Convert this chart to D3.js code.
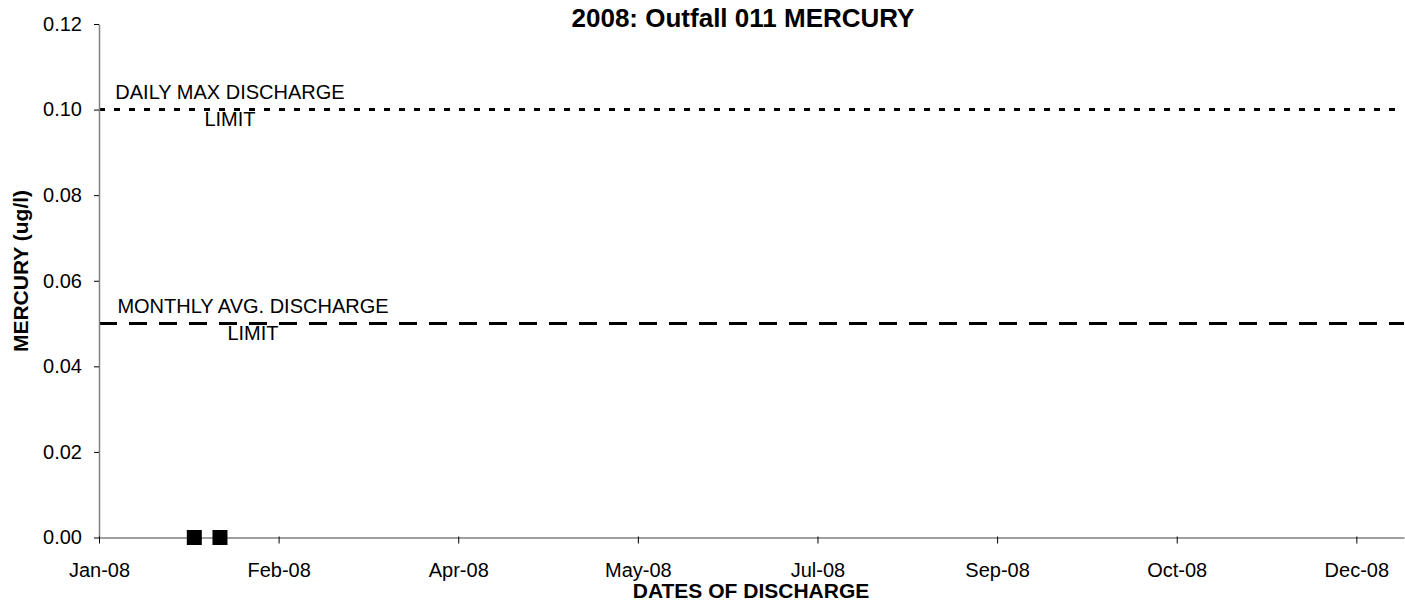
<!DOCTYPE html>
<html>
<head>
<meta charset="utf-8">
<script src="https://cdn.jsdelivr.net/npm/d3@7"></script>
<style>
  body { margin: 0; background: #fff; }
  text { font-family: "Liberation Sans", Arial, sans-serif; }
</style>
</head>
<body>
<script>
const svgWidth = 1405
const svgHeight = 604

const margin = { top: 24, right: 1, bottom: 66.5, left: 99 }

// sample dates and mercury results
const sampleDates = ["2008-01-27", "2008-02-03"]
const mercury = [0, 0]

// permit limits
const limitNames = ["DAILY MAX DISCHARGE", "MONTHLY AVG. DISCHARGE"]
const limitValues = [0.10, 0.05]
const limitDash = ["6,9", "18,12"]

// axis ticks (Excel date axis, 49 day step)
const xTickDates = ["2008-01-01", "2008-02-19", "2008-04-08", "2008-05-27", "2008-07-15", "2008-09-02", "2008-10-21", "2008-12-09"]
const xDomain = ["2008-01-01", "2008-12-22"]
const yTicks = [0, 0.02, 0.04, 0.06, 0.08, 0.10, 0.12]

const parseDate = d3.timeParse("%Y-%m-%d")

const chartWidth = svgWidth - margin.left - margin.right
const chartHeight = svgHeight - margin.top - margin.bottom

const svg = d3.select("body").append("svg")
    .attr("width", svgWidth)
    .attr("height", svgHeight)

const chartG = svg.append("g")
    .attr("transform", `translate(${margin.left}, ${margin.top})`)

const x = d3.scaleTime()
    .domain(xDomain.map(parseDate))
    .range([0, chartWidth])

const y = d3.scaleLinear()
    .domain([0, 0.12])
    .range([chartHeight, 0])

// limit lines
limitValues.forEach((v, i) => {
    chartG.append("line")
        .attr("x1", 0)
        .attr("x2", chartWidth)
        .attr("y1", y(v))
        .attr("y2", y(v))
        .attr("stroke", "#000")
        .attr("stroke-width", 3)
        .attr("stroke-dasharray", limitDash[i])
})

// y axis
const yAxis = d3.axisLeft(y)
    .tickValues(yTicks)
    .tickFormat(d3.format(".2f"))
    .tickSize(5)
    .tickSizeOuter(0)

const yG = chartG.append("g").call(yAxis)
yG.select(".domain").attr("stroke", "#808080").attr("stroke-width", 1.5)
yG.selectAll(".tick line").attr("stroke", "#000")
yG.selectAll(".tick text")
    .attr("x", -17)
    .attr("font-size", 20)
    .attr("fill", "#000")
    .style("font-family", "Liberation Sans, Arial, sans-serif")

// x axis
const xAxis = d3.axisBottom(x)
    .tickValues(xTickDates.map(parseDate))
    .tickFormat(d3.timeFormat("%b-%y"))
    .tickSize(6)
    .tickSizeOuter(0)

const xG = chartG.append("g")
    .attr("transform", `translate(0, ${chartHeight})`)
    .call(xAxis)
xG.select(".domain").attr("stroke", "#808080").attr("stroke-width", 1.5)
xG.selectAll(".tick line").attr("stroke", "#000").attr("y1", -1)
xG.selectAll(".tick text")
    .attr("y", 39)
    .attr("dy", null)
    .attr("font-size", 20)
    .attr("fill", "#000")
    .style("font-family", "Liberation Sans, Arial, sans-serif")

// limit labels
const labelCenters = [131, 154]
limitValues.forEach((v, i) => {
    const lbl = chartG.append("text")
        .attr("font-size", 20)
        .attr("fill", "#000")
        .attr("text-anchor", "middle")
    lbl.append("tspan").attr("x", labelCenters[i]).attr("y", y(v) - 11).text(limitNames[i])
    lbl.append("tspan").attr("x", labelCenters[i]).attr("y", y(v) + 16).text("LIMIT")
})

// data points
chartG.selectAll("rect.pt")
    .data(sampleDates)
    .enter()
    .append("rect")
    .attr("class", "pt")
    .attr("x", d => x(parseDate(d)) - 7.5)
    .attr("y", (d, i) => y(mercury[i]) - 7.5)
    .attr("width", 15)
    .attr("height", 15)
    .attr("fill", "#000")

// titles
svg.append("text")
    .attr("x", 743)
    .attr("y", 27)
    .attr("text-anchor", "middle")
    .attr("font-size", 26)
    .attr("font-weight", "bold")
    .text("2008: Outfall 011 MERCURY")

svg.append("text")
    .attr("x", 751)
    .attr("y", 598)
    .attr("text-anchor", "middle")
    .attr("font-size", 21)
    .attr("font-weight", "bold")
    .text("DATES OF DISCHARGE")

svg.append("text")
    .attr("transform", "translate(28, 271) rotate(-90)")
    .attr("text-anchor", "middle")
    .attr("font-size", 21)
    .attr("font-weight", "bold")
    .text("MERCURY (ug/l)")
</script>
</body>
</html>
